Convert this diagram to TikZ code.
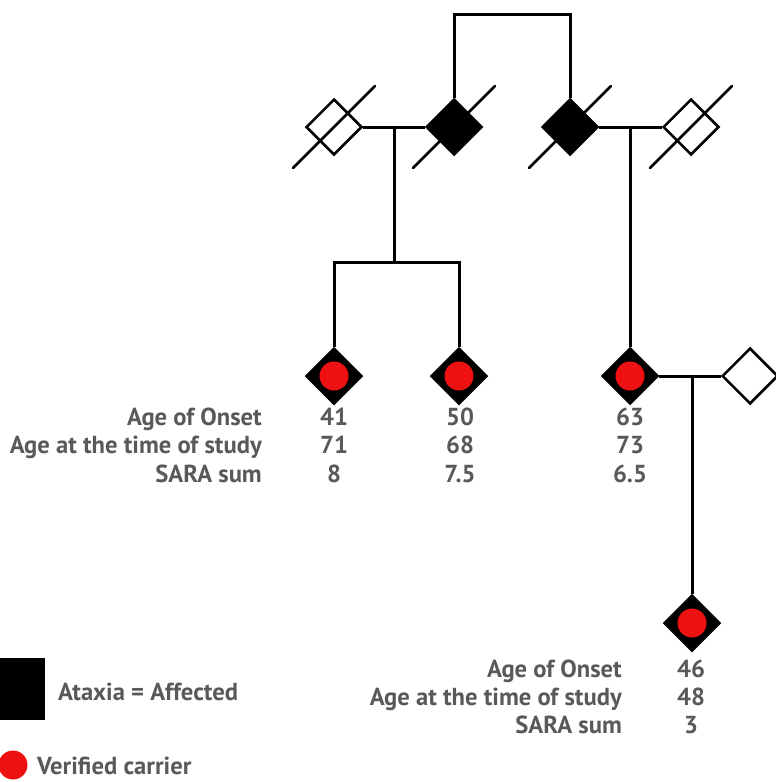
\documentclass[tikz,border=0pt]{standalone}
\usepackage{fontspec}
\setmainfont{PT Sans}
\usetikzlibrary{shapes.geometric,positioning,calc}
\definecolor{txtgray}{HTML}{58595B}
\definecolor{carrierred}{HTML}{EE1111}

\begin{document}
\begin{tikzpicture}[
    x=1pt, y=-1pt,
    person/.style={diamond, draw=black, line width=2.5pt, minimum width=56pt, minimum height=56pt, inner sep=0pt, fill=white},
    affected/.style={person, fill=black},
    carrier/.style={circle, fill=carrierred, minimum size=29pt, inner sep=0pt},
    line/.style={line width=3pt},
    slash/.style={line width=2.5pt, line cap=round},
    txt/.style={text=txtgray, font=\fontsize{24.6}{28}\selectfont\bfseries, inner sep=0pt},
    lbl/.style={txt, anchor=base east},
    val/.style={txt, anchor=base},
]
\useasboundingbox (0,0) rectangle (776,782);

% top generation
\node[person]   (spouseL) at (334,127) {};
\node[affected] (affL)    at (454,127) {};
\node[affected] (affR)    at (570,127) {};
\node[person]   (spouseR) at (691,127) {};
% second generation
\node[affected] (ch1)     at (334,376) {};
\node[affected] (ch2)     at (459,376) {};
\node[affected] (ch3)     at (630,376) {};
\node[person]   (spouse3) at (750,376) {};
% third generation
\node[affected] (gch)     at (692,623) {};

\node[carrier] (dot1) at (ch1) {};
\node[carrier] (dot2) at (ch2) {};
\node[carrier] (dot3) at (ch3) {};
\node[carrier] (dot4) at (gch) {};

% deceased
\foreach \p in {spouseL,affL,affR,spouseR}
  \draw[slash] ([shift={(-41,41)}]\p.center) -- ([shift={(41,-41)}]\p.center);

\coordinate (sibtop) at (511,14);
\coordinate (mateL)  at (394,127);
\coordinate (sibL)   at (394,262);
\coordinate (mateR)  at (630,127);
\coordinate (mate3)  at (692,376);

\draw[line] (affL.north) |- (sibtop) -| (affR.north);
\draw[line] (spouseL.east) -- (affL.west);
\draw[line] (affR.east) -- (spouseR.west);
\draw[line] (mateL) -- (sibL);
\draw[line] (ch1.north) |- (sibL) -| (ch2.north);
\draw[line] (mateR) -- (ch3.north);
\draw[line] (ch3.east) -- (spouse3.west);
\draw[line] (mate3) -- (gch.north);

% clinical data
\node[lbl] (onset1) at (262,425) {Age of Onset};
\node[lbl] (age1)   at (262,453) {Age at the time of study};
\node[lbl] (sara1)  at (262,482) {SARA sum};
\node[val] (o1) at (334,425) {41};
\node[val] (a1) at (334,453) {71};
\node[val] (s1) at (334,482) {8};
\node[val] (o2) at (460,425) {50};
\node[val] (a2) at (460,453) {68};
\node[val] (s2) at (460,482) {7.5};
\node[val] (o3) at (630,425) {63};
\node[val] (a3) at (630,453) {73};
\node[val] (s3) at (630,482) {6.5};

\node[lbl] (onset2) at (622,677) {Age of Onset};
\node[lbl] (age2)   at (622,705) {Age at the time of study};
\node[lbl] (sara2)  at (622,733) {SARA sum};
\node[val] (o4) at (691,677) {46};
\node[val] (a4) at (691,705) {48};
\node[val] (s4) at (691,733) {3};

% legend
\node[fill=black, minimum size=62pt, inner sep=0pt] (legsq) at (14,689) {};
\node[txt, anchor=base west] (legaff) at (58,700) {Ataxia = Affected};
\node[carrier] (legdot) at (13,765) {};
\node[txt, anchor=base west] (legcar) at (37,774) {Verified carrier};
\end{tikzpicture}
\end{document}
